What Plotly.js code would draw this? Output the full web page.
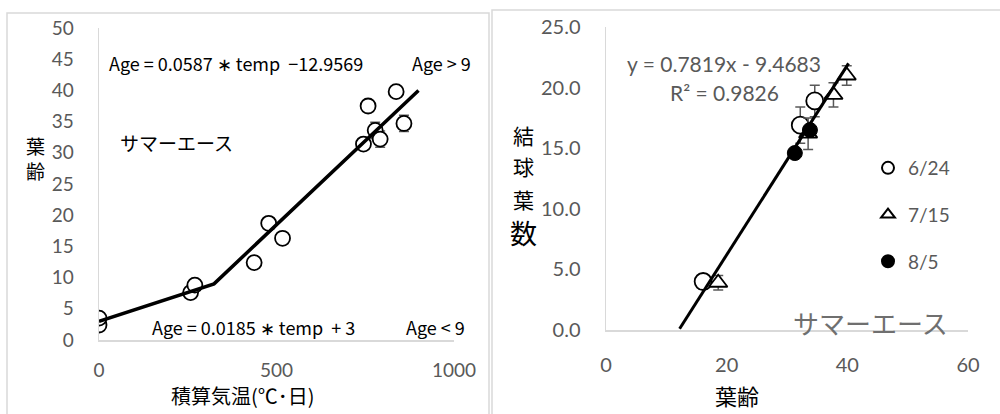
<!DOCTYPE html>
<html>
<head>
<meta charset="utf-8">
<script src="https://cdn.plot.ly/plotly-3.0.1.min.js"></script>
<style>html,body{margin:0;padding:0;background:#fff}#chart{width:1000px;height:414px}</style>
</head>
<body>
<div id="chart"></div>
<script>
// ---- Left panel: leaf age vs accumulated temperature ----
const tempDeg   = [0, 0, 258, 270, 437, 478, 517, 745, 758, 778, 792, 837, 859];
const leafAge   = [2.4, 3.5, 7.6, 8.8, 12.4, 18.7, 16.3, 31.4, 37.5, 33.6, 32.2, 39.8, 34.7];
const leafAgeErr= [0, 0, 0, 0, 0, 0, 0, 0, 0, 1.3, 1.3, 0, 1.3];
const fitTemp   = [0, 324, 900];
const fitAge    = [3, 9, 40];

// ---- Right panel: heading leaf number vs leaf age ----
const age0624 = [16.1, 32.2, 34.6];
const hl0624  = [4.0, 16.9, 18.9];
const err0624 = [0.6, 1.5, 1.3];
const age0715 = [18.6, 33.5, 37.7, 39.9];
const hl0715  = [3.9, 16.2, 19.4, 21.0];
const err0715 = [0.6, 1.3, 1.0, 0.8];
const age0805 = [31.3, 33.8];
const hl0805  = [14.6, 16.5];
const trendX  = [12.2, 40.2];
const trendY  = [0.1, 22.0];

const seriesNames = ['6/24', '7/15', '8/5'];
const leftTicksX = [0, 500, 1000];
const rightTicksX = [0, 20, 40, 60];

const JP = '"Noto Sans CJK JP", sans-serif';
const NUM = 'Lato, "Noto Sans CJK JP", sans-serif';
const GRAY = '#595959';
const ERR = {color: GRAY, thickness: 1.5, width: 5};
const SP = '\u00a0';

const traces = [
  {x: tempDeg, y: leafAge, xaxis: 'x', yaxis: 'y', mode: 'markers', type: 'scatter', showlegend: false,
   marker: {symbol: 'circle', size: 15, color: '#fff', line: {color: '#000', width: 1.8}},
   error_y: Object.assign({type: 'data', array: leafAgeErr, visible: true}, ERR)},
  {x: fitTemp, y: fitAge, xaxis: 'x', yaxis: 'y', mode: 'lines', type: 'scatter', showlegend: false,
   line: {color: '#000', width: 3.5}},
  {x: age0624, y: hl0624, xaxis: 'x2', yaxis: 'y2', mode: 'markers', type: 'scatter', name: seriesNames[0],
   legendgroup: 'a', marker: {symbol: 'circle', size: 17, color: '#fff', line: {color: '#000', width: 1.8}},
   error_y: Object.assign({type: 'data', array: err0624, visible: true}, ERR)},
  {x: age0715, y: hl0715, xaxis: 'x2', yaxis: 'y2', mode: 'markers', type: 'scatter', name: seriesNames[1],
   legendgroup: 'b', marker: {symbol: 'triangle-up', size: 16, color: '#fff', line: {color: '#000', width: 1.8}},
   error_y: Object.assign({type: 'data', array: err0715, visible: true}, ERR)},
  {x: age0805, y: hl0805, xaxis: 'x2', yaxis: 'y2', mode: 'markers', type: 'scatter', name: seriesNames[2],
   legendgroup: 'c', marker: {symbol: 'circle', size: 15, color: '#000', line: {color: '#000', width: 1}}},
  {x: trendX, y: trendY, xaxis: 'x2', yaxis: 'y2', mode: 'lines', type: 'scatter', showlegend: false,
   line: {color: '#000', width: 3}}
];

const axBase = {showline: true, linecolor: '#d9d9d9', linewidth: 1.5, showgrid: false, zeroline: false,
  ticks: '', tickfont: {family: NUM, size: 19, color: GRAY}, fixedrange: true};

function ann(text, x, y, opts) {
  return Object.assign({text: text, x: x / 1000, y: 1 - y / 414, xref: 'paper', yref: 'paper',
    showarrow: false, xanchor: 'center', yanchor: 'middle', font: {family: JP, size: 18, color: '#000'}}, opts || {});
}

const layout = {
  width: 1000, height: 414,
  margin: {l: 0, r: 0, t: 0, b: 0},
  paper_bgcolor: '#fff', plot_bgcolor: 'rgba(0,0,0,0)',
  font: {family: NUM},
  xaxis: Object.assign({}, axBase, {domain: [0.099, 0.454], range: [0, 1000], tickvals: leftTicksX,
    anchor: 'y', ticklabelstandoff: 13}),
  yaxis: Object.assign({}, axBase, {domain: [74 / 414, 386 / 414], range: [0, 50], dtick: 5,
    anchor: 'x', ticklabelstandoff: 20}),
  xaxis2: Object.assign({}, axBase, {domain: [0.606, 0.968], range: [0, 60], tickvals: rightTicksX,
    anchor: 'y2', ticklabelstandoff: 16, tickfont: {family: NUM, size: 20, color: GRAY}}),
  yaxis2: Object.assign({}, axBase, {domain: [84 / 414, 387 / 414], range: [0, 25], dtick: 5,
    tickformat: '.1f', anchor: 'x2', ticklabelstandoff: 20, tickfont: {family: NUM, size: 20, color: GRAY}}),
  showlegend: true,
  legend: {x: 0.868, y: 1 - 149 / 414, xanchor: 'left', yanchor: 'top', bgcolor: 'rgba(0,0,0,0)',
    font: {family: NUM, size: 19, color: GRAY}, tracegroupgap: 19, itemsizing: 'constant', itemwidth: 30},
  shapes: [
    {type: 'rect', xref: 'paper', yref: 'paper', x0: 0.007, x1: 0.489, y0: -0.1, y1: 1 - 13 / 414,
     line: {color: '#d9d9d9', width: 1.5}, layer: 'below'},
    {type: 'rect', xref: 'paper', yref: 'paper', x0: 0.492, x1: 1.1, y0: -0.1, y1: 1 - 10 / 414,
     line: {color: '#d9d9d9', width: 1.5}, layer: 'below'}
  ],
  annotations: [
    ann('Age = 0.0587 ∗ temp' + SP + SP + '−12.9569', 107, 63, {xanchor: 'left'}),
    ann('Age > 9', 473, 63, {xanchor: 'right'}),
    ann('Age = 0.0185 ∗ temp' + SP + SP + '+ 3', 150, 327, {xanchor: 'left'}),
    ann('Age < 9', 467, 327, {xanchor: 'right'}),
    ann('サマーエース', 118, 142, {xanchor: 'left', font: {family: JP, size: 19, color: '#000'}}),
    ann('葉', 35, 145, {font: {family: JP, size: 19, color: '#000'}}),
    ann('齢', 35, 170, {font: {family: JP, size: 19, color: '#000'}}),
    ann('積算気温(℃･日)', 243, 395, {font: {family: JP, size: 20, color: '#000'}}),
    ann('y = 0.7819x - 9.4683', 625, 63, {xanchor: 'left', font: {family: NUM, size: 21, color: GRAY}}),
    ann('R² = 0.9826', 668, 92, {xanchor: 'left', font: {family: NUM, size: 21, color: GRAY}}),
    ann('サマーエース', 791, 322, {xanchor: 'left', font: {family: JP, size: 26, color: '#6f6f6f'}}),
    ann('結', 523, 135, {font: {family: JP, size: 21, color: '#000'}}),
    ann('球', 523, 166, {font: {family: JP, size: 21, color: '#000'}}),
    ann('葉', 523, 199, {font: {family: JP, size: 21, color: '#000'}}),
    ann('数', 523, 233, {font: {family: JP, size: 27, color: '#000'}}),
    ann('葉齢', 737, 395, {font: {family: JP, size: 22, color: '#000'}})
  ]
};

Plotly.newPlot('chart', traces, layout, {staticPlot: true, displayModeBar: false});
</script>
</body>
</html>
